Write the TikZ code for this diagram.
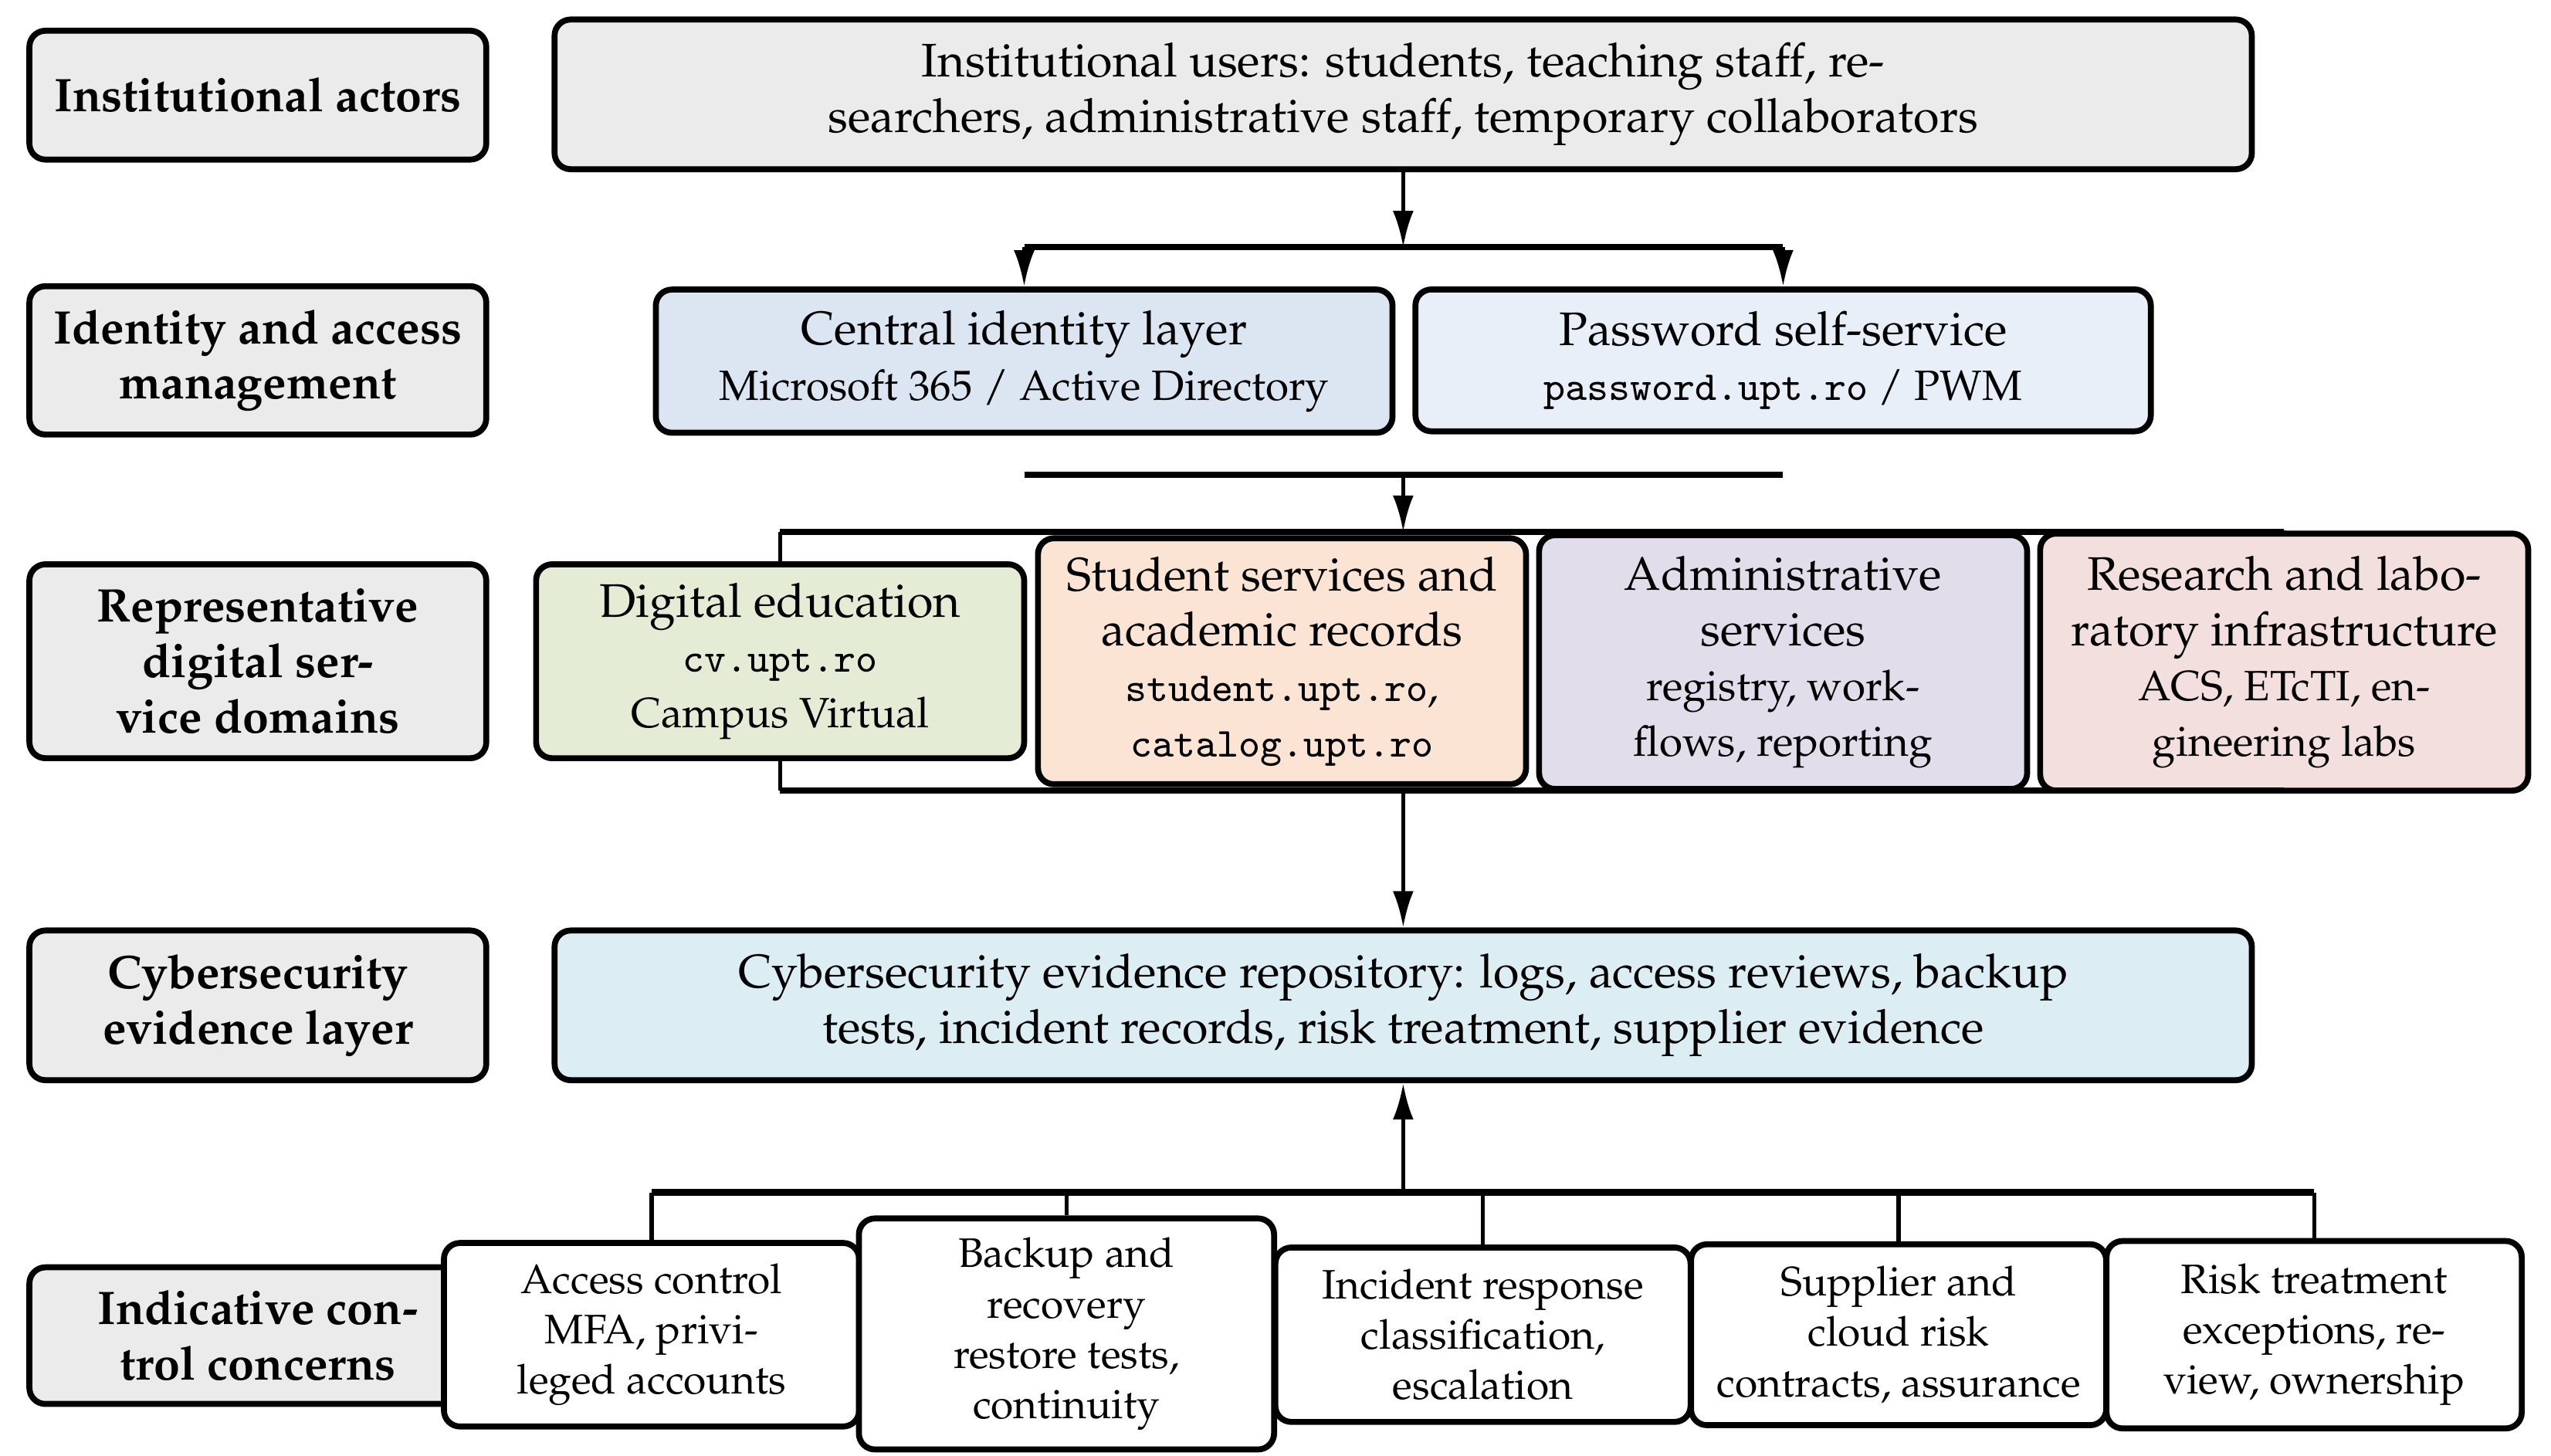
\documentclass[tikz,border=0pt]{standalone}
\usepackage[T1]{fontenc}
\usepackage{mathpazo}
\usetikzlibrary{arrows.meta}

\definecolor{labelgray}{RGB}{235,235,235}
\definecolor{idblue}{RGB}{220,230,242}
\definecolor{pwdblue}{RGB}{232,239,248}
\definecolor{edugreen}{RGB}{228,236,214}
\definecolor{stupeach}{RGB}{252,228,212}
\definecolor{admlilac}{RGB}{226,221,234}
\definecolor{respink}{RGB}{242,223,222}
\definecolor{evicyan}{RGB}{220,237,243}

\newcommand{\subtext}{\fontsize{9.25pt}{11pt}\selectfont}
\newcommand{\host}[1]{{\fontencoding{OT1}\fontfamily{cmtt}\selectfont #1}}

\tikzstyle{box}=[draw, line width=1.3pt, rounded corners=3.5pt, align=center, inner sep=2pt, font=\fontsize{10.3pt}{12.1pt}\selectfont]
\tikzstyle{tier}=[box, fill=labelgray, font=\fontsize{10.3pt}{12.1pt}\selectfont\bfseries, minimum width=3.51cm]
\tikzstyle{service}=[box, minimum width=3.75cm]
\tikzstyle{control}=[box, fill=white, font=\small, minimum width=3.19cm]
\tikzstyle{link}=[line width=0.9pt]
\tikzstyle{bar}=[line width=1.4pt]
\tikzstyle{flow}=[line width=0.9pt, -{Latex[length=2.8mm,width=1.6mm]}]

\begin{document}
\begin{tikzpicture}
				\useasboundingbox (0,0) rectangle (19.6,-11.1875);

				% left column
				\node[tier, minimum height=0.99cm] (actors) at (1.981,-0.731) {Institutional actors};
				\node[tier, minimum height=1.14cm] (iam) at (1.981,-2.769) {Identity and access\\management};
				\node[tier, minimum height=1.49cm] (domains) at (1.981,-5.081) {Representative\\digital ser-\\vice domains};
				\node[tier, minimum height=1.15cm] (evidence) at (1.981,-7.725) {Cybersecurity\\evidence layer};
				\node[tier, minimum height=1.05cm] (concerns) at (1.981,-10.263) {Indicative con-\\trol concerns};

				% actors and identity
				\node[box, fill=labelgray, minimum width=13.04cm, minimum height=1.15cm] (users) at (10.781,-0.725)
					{Institutional users: students, teaching staff, re-\\searchers, administrative staff, temporary collaborators};
				\node[box, fill=idblue, minimum width=5.66cm, minimum height=1.10cm] (cid) at (7.869,-2.775)
					{Central identity layer\\{\subtext Microsoft 365 / Active Directory}};
				\node[box, fill=pwdblue, minimum width=5.65cm, minimum height=1.09cm] (pwd) at (13.70,-2.769)
					{Password self-service\\{\subtext\host{password.upt.ro} / PWM}};

				% service domains
				\node[service, fill=edugreen, minimum height=1.49cm] (edu) at (5.994,-5.081)
					{Digital education\\{\subtext\host{cv.upt.ro}}\\{\subtext Campus Virtual}};
				\node[service, fill=stupeach, minimum height=1.89cm] (stu) at (9.85,-5.081)
					{Student services and\\academic records\\{\subtext\host{student.upt.ro},}\\{\subtext\host{catalog.upt.ro}}};
				\node[service, fill=admlilac, minimum height=1.95cm] (adm) at (13.70,-5.0875)
					{Administrative\\services\\{\subtext registry, work-}\\{\subtext flows, reporting}};
				\node[service, fill=respink, minimum height=1.975cm] (res) at (17.55,-5.0875)
					{Research and labo-\\ratory infrastructure\\{\subtext ACS, ETcTI, en-}\\{\subtext gineering labs}};

				% evidence layer
				\node[box, fill=evicyan, minimum width=13.04cm, minimum height=1.15cm] (repo) at (10.781,-7.725)
					{Cybersecurity evidence repository: logs, access reviews, backup\\tests, incident records, risk treatment, supplier evidence};

				% control concerns
				\node[control, minimum height=1.41cm] (acc) at (5.006,-10.256) {Access control\\MFA, privi-\\leged accounts};
				\node[control, minimum height=1.775cm] (bak) at (8.194,-10.25) {Backup and\\recovery\\restore tests,\\continuity};
				\node[control, minimum height=1.34cm] (inc) at (11.394,-10.256) {Incident response\\classification,\\escalation};
				\node[control, minimum height=1.39cm] (sup) at (14.5875,-10.256) {Supplier and\\cloud risk\\contracts, assurance};
				\node[control, minimum height=1.44cm] (risk) at (17.78,-10.256) {Risk treatment\\exceptions, re-\\view, ownership};

				\coordinate (split) at (10.781,-1.9);
				\coordinate (merge) at (10.781,-3.65);
				\coordinate (dtop) at (10.781,-4.0875);
				\coordinate (dbot) at (10.781,-6.075);
				\coordinate (bus) at (10.781,-9.1625);

				% users to identity
				\draw[flow] (users.south) -- (split);
				\draw[bar] (split -| cid) -- (split -| pwd);
				\draw[flow] (split -| cid) -- (cid.north);
				\draw[flow] (split -| pwd) -- (pwd.north);

				% identity to domains
				\draw[bar] (merge -| cid) -- (merge -| pwd);
				\draw[flow] (merge) -- (dtop);
				\draw[bar] (dtop -| edu) -- (dtop -| res);
				\draw[bar] (dbot -| edu) -- (dbot -| res);
				\foreach \d in {edu, stu, adm, res} {
					\draw[link] (\d.north) -- (dtop -| \d);
					\draw[link] (\d.south) -- (dbot -| \d);
				}

				% domains to evidence
				\draw[flow] (dbot) -- (repo.north);

				% controls to evidence
				\draw[bar] (bus -| acc) -- (bus -| risk);
				\foreach \c in {acc, bak, inc, sup, risk}
					\draw[link] (\c.north) -- (bus -| \c);
				\draw[flow] (bus) -- (repo.south);
			\end{tikzpicture}
\end{document}
